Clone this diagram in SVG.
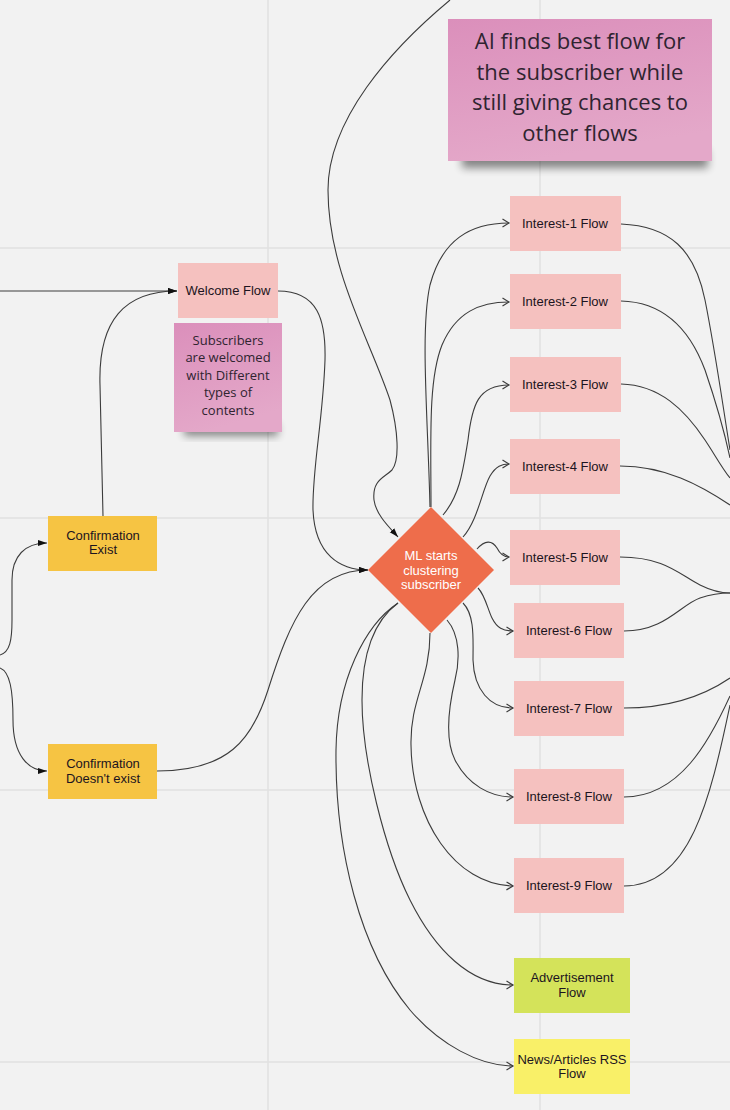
<svg xmlns="http://www.w3.org/2000/svg" width="730" height="1110" viewBox="0 0 730 1110">
<style>
.bg{fill:#f2f2f2}
.grid{stroke:#e1e1e1;stroke-width:1.5;fill:none}
.box{fill:#f5c1bf}
.conf{fill:#f6c443}
.ad{fill:#d4e35a}
.news{fill:#f9f068}
.t{font-family:"Liberation Sans",Arial,sans-serif;font-size:13px;fill:#1c1420;text-anchor:middle}
.tw{font-family:"Liberation Sans",Arial,sans-serif;font-size:13px;fill:#ffffff;text-anchor:middle}
.st{font-family:"Open Sans","Noto Sans",sans-serif;fill:#2f2430;text-anchor:middle}
.c{fill:none;stroke:#3c3c3c;stroke-width:1.1}
.cf{marker-end:url(#fa)}
.co{marker-end:url(#oa)}
.shd{fill:#000;opacity:0.45;filter:url(#blur)}
</style>
<defs>
<marker id="fa" markerUnits="userSpaceOnUse" markerWidth="9" markerHeight="7" refX="9" refY="3.5" orient="auto">
<path d="M0,0.5 L9,3.5 L0,6.5 Z" fill="#111"/>
</marker>
<marker id="oa" markerUnits="userSpaceOnUse" markerWidth="10" markerHeight="10" refX="7.5" refY="5" orient="auto">
<path d="M1,1 L7.5,5 L1,9" fill="none" stroke="#3c3c3c" stroke-width="1.2"/>
</marker>
<linearGradient id="pk" x1="0" y1="0" x2="0.3" y2="1">
<stop offset="0" stop-color="#db8fbb"/>
<stop offset="1" stop-color="#e4a8c9"/>
</linearGradient>
<filter id="blur" x="-20%" y="-50%" width="140%" height="200%">
<feGaussianBlur stdDeviation="4"/>
</filter>
</defs>
<rect class="bg" x="0" y="0" width="730" height="1110"/>
<g id="grid">
<line class="grid" x1="268" y1="0" x2="268" y2="1110"/>
<line class="grid" x1="540" y1="0" x2="540" y2="1110"/>
<line class="grid" x1="0" y1="248" x2="730" y2="248"/>
<line class="grid" x1="0" y1="518" x2="730" y2="518"/>
<line class="grid" x1="0" y1="790" x2="730" y2="790"/>
<line class="grid" x1="0" y1="1062" x2="730" y2="1062"/>
</g>
<g id="connectors">
<path class="c cf" d="M0,291 L177,291"/>
<path class="c cf" d="M103,516 L100,385 C98,320 125,291 177,291"/>
<path class="c cf" d="M0,655 C10,652 12,640 12,620 L12,580 C12,556 25,543 47,543"/>
<path class="c cf" d="M0,668 C10,672 13,690 13,720 C13,755 28,771 47,771"/>
<path class="c cf" d="M278,291 C318,291 326,320 325,360 C323,420 312,470 313,510 C315,555 340,570 368,570"/>
<path class="c cf" d="M157,771 C228,771 252,740 268,690 C290,620 312,570 368,570"/>
<path class="c cf" d="M450,0 C390,50 328,120 328,190 C328,270 370,340 390,400 C398,430 400,460 392,470 C384,478 372,480 374,500 C376,515 390,528 398,537"/>
<path class="c co" d="M430,507 C428,420 420,330 430,285 C442,240 470,223 509,223"/>
<path class="c co" d="M431,507 C431,440 428,380 442,345 C456,312 480,302 509,302"/>
<path class="c co" d="M443,515 C460,495 463,470 468,440 C472,405 478,385 509,385"/>
<path class="c co" d="M463,537 C478,520 482,490 490,476 C496,466 502,464 509,464"/>
<path class="c co" d="M477,549 C485,540 492,540 497,548 C500,554 503,557 509,557"/>
<path class="c co" d="M478,588 C485,595 488,610 492,618 C497,628 503,631 513,631"/>
<path class="c co" d="M463,603 C475,615 473,640 473,660 C474,690 490,708 513,708"/>
<path class="c co" d="M447,620 C460,635 460,660 455,680 C448,710 445,740 455,760 C468,785 490,797 513,797"/>
<path class="c co" d="M430,633 C430,680 410,700 411,745 C412,820 455,885 513,886"/>
<path class="c co" d="M398,603 C375,620 362,650 362,700 C362,760 385,850 410,900 C435,950 470,985 513,985"/>
<path class="c co" d="M398,603 C365,625 337,680 336,750 C335,850 360,950 410,1010 C440,1045 480,1066 513,1066"/>
<path class="c" d="M621,224 C670,226 695,250 705,300 C715,350 722,400 730,450"/>
<path class="c" d="M621,301 C665,302 690,330 705,370 C717,405 724,430 730,458"/>
<path class="c" d="M621,384 C660,385 685,410 705,440 C715,455 722,468 730,478"/>
<path class="c" d="M620,466 C665,466 700,485 730,505"/>
<path class="c" d="M620,557 C665,557 680,575 700,585 C712,591 722,593 730,593"/>
<path class="c" d="M624,631 C665,631 680,605 700,598 C712,594 722,593 730,593"/>
<path class="c" d="M624,708 C670,708 705,695 730,678"/>
<path class="c" d="M624,797 C680,797 710,740 730,696"/>
<path class="c" d="M624,886 C690,886 710,800 730,705"/>
</g>
<g id="note-ai">
<rect class="shd" x="462" y="150" width="246" height="18"/>
<rect x="448" y="19" width="264" height="142" fill="url(#pk)"/>
<text class="st" font-size="22" x="580" y="49">AI finds best flow for</text>
<text class="st" font-size="22" x="580" y="80">the subscriber while</text>
<text class="st" font-size="22" x="580" y="110">still giving chances to</text>
<text class="st" font-size="22" x="580" y="141">other flows</text>
</g>
<g id="welcome">
<rect class="box" x="178" y="263" width="100" height="55"/>
<text class="t" x="228" y="295">Welcome Flow</text>
</g>
<g id="note-welcome">
<rect class="shd" x="184" y="424" width="94" height="12"/>
<rect x="174" y="323" width="108" height="109" fill="url(#pk)"/>
<text class="st" font-size="13" x="228" y="345">Subscribers</text>
<text class="st" font-size="13" x="228" y="362">are welcomed</text>
<text class="st" font-size="13" x="228" y="380">with Different</text>
<text class="st" font-size="13" x="228" y="397">types of</text>
<text class="st" font-size="13" x="228" y="415">contents</text>
</g>
<g id="conf-exist">
<rect class="conf" x="48" y="516" width="109" height="55"/>
<text class="t" x="103" y="540">Confirmation</text>
<text class="t" x="103" y="554">Exist</text>
</g>
<g id="conf-not">
<rect class="conf" x="48" y="744" width="109" height="55"/>
<text class="t" x="103" y="768">Confirmation</text>
<text class="t" x="103" y="783">Doesn't exist</text>
</g>
<g id="ml">
<polygon points="431,507 494,570 431,633 368,570" fill="#ee6d4b"/>
<text class="tw" x="431" y="560">ML starts</text>
<text class="tw" x="431" y="575">clustering</text>
<text class="tw" x="431" y="589">subscriber</text>
</g>
<g id="i1"><rect class="box" x="510" y="196" width="111" height="55"/><text class="t" x="565" y="228">Interest-1 Flow</text></g>
<g id="i2"><rect class="box" x="510" y="274" width="111" height="55"/><text class="t" x="565" y="306">Interest-2 Flow</text></g>
<g id="i3"><rect class="box" x="510" y="357" width="111" height="55"/><text class="t" x="565" y="389">Interest-3 Flow</text></g>
<g id="i4"><rect class="box" x="510" y="439" width="110" height="55"/><text class="t" x="565" y="471">Interest-4 Flow</text></g>
<g id="i5"><rect class="box" x="510" y="530" width="110" height="55"/><text class="t" x="565" y="562">Interest-5 Flow</text></g>
<g id="i6"><rect class="box" x="514" y="603" width="110" height="55"/><text class="t" x="569" y="635">Interest-6 Flow</text></g>
<g id="i7"><rect class="box" x="514" y="681" width="110" height="55"/><text class="t" x="569" y="713">Interest-7 Flow</text></g>
<g id="i8"><rect class="box" x="514" y="769" width="110" height="55"/><text class="t" x="569" y="801">Interest-8 Flow</text></g>
<g id="i9"><rect class="box" x="514" y="858" width="110" height="55"/><text class="t" x="569" y="890">Interest-9 Flow</text></g>
<g id="ad">
<rect class="ad" x="514" y="958" width="116" height="55"/>
<text class="t" x="572" y="982">Advertisement</text>
<text class="t" x="572" y="997">Flow</text>
</g>
<g id="news">
<rect class="news" x="514" y="1039" width="116" height="55"/>
<text class="t" x="572" y="1064">News/Articles RSS</text>
<text class="t" x="572" y="1078">Flow</text>
</g>
</svg>
